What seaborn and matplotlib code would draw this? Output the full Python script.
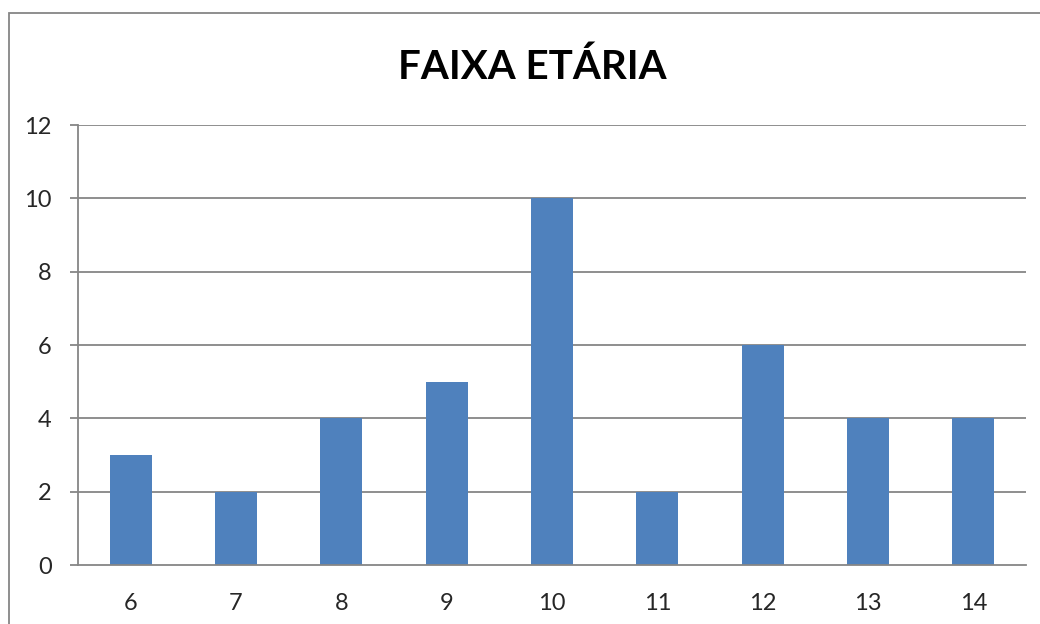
import matplotlib
matplotlib.use("Agg")
import matplotlib.pyplot as plt
import seaborn as sns
import pandas as pd
import numpy as np
from matplotlib.patches import Rectangle

ages = ["6", "7", "8", "9", "10", "11", "12", "13", "14"]
counts = [3, 2, 4, 5, 10, 2, 6, 4, 4]
yticks = [0, 2, 4, 6, 8, 10, 12]
title = "FAIXA ETÁRIA"

sns.set_style("white")
plt.rcParams["font.family"] = ["Lato", "DejaVu Sans"]

df = pd.DataFrame({"idade": ages, "n": counts})

fig = plt.figure(figsize=(10.4, 6.24), dpi=100)
ax = fig.add_axes([78/1040, 1-565/624, (1026-78)/1040, (565-125)/624])

grid_c = "#868686"
for y in yticks[1:]:
    ax.axhline(y, color=grid_c, lw=1.3, zorder=0)

sns.barplot(data=df, x="idade", y="n", order=ages, color="#4F81BD", width=0.4,
            saturation=1, ax=ax, zorder=2, linewidth=0, edgecolor="none")

ax.set_xlim(-0.5, 8.5)
ax.set_ylim(0, 12)
ax.set_yticks(yticks)
ax.set_yticklabels([str(v) for v in yticks], fontsize=17)
ax.set_xticks(range(len(ages)))
ax.set_xticklabels(ages, fontsize=17)
ax.set_xticks(np.arange(-0.5, 9, 1), minor=True)
ax.tick_params(axis="x", which="major", length=0, pad=20)
ax.tick_params(axis="x", which="minor", length=6, width=1.3, color=grid_c)
ax.tick_params(axis="y", length=6, width=1.3, color=grid_c, pad=13, left=True)
ax.set_xlabel("")
ax.set_ylabel("")
for s in ["top", "right"]:
    ax.spines[s].set_visible(False)
for s in ["left", "bottom"]:
    ax.spines[s].set_color(grid_c)
    ax.spines[s].set_linewidth(1.3)

fig.text(532/1040, 1-67/624, title, ha="center", va="center",
         fontsize=29, fontweight="bold", color="black")

fig.patches.append(Rectangle((8.5/1040, -0.1), 1.2, 1-13/624+0.1,
                             transform=fig.transFigure, fill=False,
                             edgecolor=grid_c, lw=1.3, clip_on=False))

fig.savefig("out.png", dpi=100)
